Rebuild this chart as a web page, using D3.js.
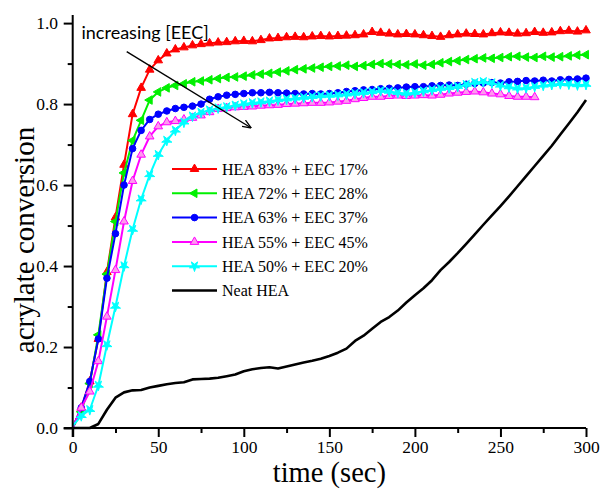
<!DOCTYPE html>
<html><head><meta charset="utf-8">
<script src="https://cdn.jsdelivr.net/npm/d3@7/dist/d3.min.js"></script>
<style>body{margin:0;background:#fff}svg{display:block}</style>
</head><body>
<svg id="c" width="600" height="489"></svg>
<script>
const times = d3.range(0, 301, 5);
const hea83 = [0,0.05,0.115,0.22,0.385,0.52,0.65,0.775,0.84,0.885,0.908,0.925,0.935,0.94,0.945,0.948,0.95,0.952,0.953,0.955,0.956,0.955,0.958,0.962,0.963,0.965,0.966,0.965,0.967,0.968,0.967,0.968,0.969,0.97,0.972,0.978,0.976,0.974,0.972,0.973,0.972,0.97,0.968,0.966,0.97,0.972,0.974,0.973,0.972,0.975,0.977,0.976,0.974,0.975,0.978,0.976,0.977,0.98,0.981,0.979,0.982];
const hea72 = [0,0.04,0.11,0.23,0.38,0.51,0.63,0.71,0.76,0.81,0.83,0.84,0.846,0.85,0.855,0.857,0.86,0.863,0.866,0.867,0.869,0.872,0.874,0.876,0.879,0.882,0.885,0.887,0.889,0.891,0.893,0.894,0.896,0.893,0.895,0.898,0.9,0.899,0.898,0.897,0.899,0.896,0.898,0.902,0.905,0.907,0.91,0.912,0.914,0.913,0.915,0.917,0.918,0.916,0.915,0.918,0.916,0.917,0.919,0.921,0.922];
const hea63 = [0,0.05,0.115,0.22,0.37,0.48,0.6,0.69,0.735,0.762,0.775,0.783,0.789,0.792,0.795,0.8,0.812,0.818,0.822,0.824,0.826,0.828,0.828,0.829,0.828,0.827,0.826,0.825,0.826,0.825,0.826,0.828,0.831,0.833,0.835,0.836,0.838,0.839,0.84,0.842,0.843,0.843,0.845,0.846,0.847,0.846,0.849,0.851,0.852,0.853,0.852,0.855,0.856,0.858,0.857,0.859,0.857,0.86,0.861,0.862,0.864];
const hea55 = [0,0.05,0.09,0.165,0.275,0.39,0.51,0.61,0.675,0.72,0.745,0.755,0.758,0.762,0.766,0.772,0.78,0.788,0.79,0.792,0.793,0.794,0.796,0.797,0.798,0.8,0.801,0.802,0.803,0.803,0.804,0.806,0.808,0.812,0.815,0.818,0.818,0.82,0.821,0.82,0.821,0.822,0.821,0.823,0.826,0.828,0.83,0.831,0.829,0.826,0.824,0.82,0.818,0.818,0.817,null,null,null,null,null,null];
const hea50 = [0.005,0.03,0.045,0.105,0.205,0.3,0.4,0.49,0.565,0.625,0.675,0.71,0.735,0.755,0.77,0.779,0.785,0.79,0.793,0.797,0.8,0.803,0.805,0.807,0.81,0.812,0.814,0.816,0.818,0.82,0.821,0.822,0.824,0.826,0.828,0.83,0.833,0.831,0.828,0.826,0.828,0.832,0.835,0.838,0.84,0.843,0.848,0.853,0.855,0.852,0.846,0.842,0.839,0.84,0.843,0.846,0.848,0.85,0.849,0.847,0.848];
const neatHEA = [0,0,0,0.01,0.045,0.075,0.088,0.093,0.094,0.1,0.104,0.108,0.111,0.113,0.12,0.121,0.122,0.124,0.128,0.132,0.14,0.145,0.148,0.15,0.147,0.152,0.157,0.162,0.166,0.171,0.178,0.186,0.196,0.215,0.228,0.245,0.262,0.274,0.29,0.31,0.328,0.345,0.365,0.39,0.41,0.432,0.455,0.478,0.502,0.525,0.548,0.572,0.597,0.622,0.647,0.672,0.697,0.725,0.752,0.78,0.81];
const seriesNames = ["HEA 83% + EEC 17%","HEA 72% + EEC 28%","HEA 63% + EEC 37%","HEA 55% + EEC 45%","HEA 50% + EEC 20%","Neat HEA"];
const xTicks = [0,50,100,150,200,250,300];
const xMinor = [25,75,125,175,225,275];
const yTicks = [0,0.2,0.4,0.6,0.8,1.0];
const yMinor = [0.1,0.3,0.5,0.7,0.9];
const annotation = "increasing [EEC]";
const xTitle = "time (sec)";
const yTitle = "acrylate conversion";

const svg = d3.select("#c");
const serif = "'Liberation Serif','Times New Roman',serif";
const x = d3.scaleLinear().domain([0,300]).range([72.7,586]);
const y = d3.scaleLinear().domain([0,1.02]).range([428,15]);

const styles = [
  {color:"#ff0000", sym:"tri", fill:"#ff0000"},
  {color:"#00f000", sym:"left", fill:"#00f000"},
  {color:"#0000ff", sym:"circle", fill:"#0000ff"},
  {color:"#ff00ff", sym:"tri", fill:"#ff99ee"},
  {color:"#00ffff", sym:"star", fill:"#00ffff"},
  {color:"#000000", sym:null}
];
const allData = [hea83,hea72,hea63,hea55,hea50,neatHEA];

function symbolPath(kind){
  if(kind==="tri") return d3.symbol(d3.symbolTriangle, 32)();
  if(kind==="left") return d3.symbol(d3.symbolTriangle, 32)();
  if(kind==="circle") return d3.symbol(d3.symbolCircle, 34)();
  if(kind==="star") return d3.symbol(d3.symbolStar, 32)();
}
function drawMarker(g, kind, st, cx, cy){
  const p = g.append("path").attr("d", symbolPath(kind))
    .attr("fill", st.fill).attr("stroke", st.color).attr("stroke-width", 1);
  let tr = `translate(${cx},${cy})`;
  if(kind==="left") tr += " rotate(-90)";
  if(kind==="star") tr += " rotate(180)";
  p.attr("transform", tr);
}

const line = d3.line().defined(d=>d[1]!=null).x(d=>x(d[0])).y(d=>y(d[1]));
const plot = svg.append("g");
const order = [5,0,1,2,3,4];
order.forEach(i=>{
  const pts = times.map((t,k)=>[t, allData[i][k]]);
  plot.append("path").datum(pts).attr("d", line)
    .attr("fill","none").attr("stroke", styles[i].color)
    .attr("stroke-width", i===5?2.6:2).attr("stroke-linejoin","round");
  if(styles[i].sym){
    const mg = plot.append("g");
    pts.filter((d,k)=>k>0 && d[1]!=null).forEach(d=>drawMarker(mg, styles[i].sym, styles[i], x(d[0]), y(d[1])));
  }
});

// axes
const ax = svg.append("g").attr("transform","translate(0,428)");
ax.call(d3.axisBottom(x).tickValues(xTicks).tickSize(9).tickSizeOuter(0).tickFormat(d3.format("d")));
const axm = svg.append("g").attr("transform","translate(0,428)");
axm.call(d3.axisBottom(x).tickValues(xMinor).tickSize(5).tickFormat(""));
axm.select(".domain").remove();
const ay = svg.append("g").attr("transform","translate(72.7,0)");
ay.call(d3.axisLeft(y).tickValues(yTicks).tickSize(9).tickSizeOuter(0).tickFormat(d3.format(".1f")));
const aym = svg.append("g").attr("transform","translate(72.7,0)");
aym.call(d3.axisLeft(y).tickValues(yMinor).tickSize(5).tickFormat(""));
aym.select(".domain").remove();
[ax,axm,ay,aym].forEach(g=>{
  g.selectAll(".domain,line").attr("stroke","#000").attr("stroke-width",2);
  g.selectAll("text").attr("font-family",serif).attr("font-size",17.5).attr("fill","#000");
});
ax.select(".domain").attr("d", `M${x(0)-9},0H${x(300)}`);
ay.select(".domain").attr("d", `M0,${y(1.02)}V437`);
ax.selectAll("text").attr("y",13).attr("dy","0.71em");
ay.selectAll("text").attr("dx","-0.15em");

// titles
svg.append("text").attr("x",(x(0)+x(300))/2).attr("y",482).attr("text-anchor","middle")
  .attr("font-family",serif).attr("font-size",28.5).text(xTitle);
svg.append("text").attr("transform","translate(34,240) rotate(-90)").attr("text-anchor","middle")
  .attr("font-family",serif).attr("font-size",29).text(yTitle);

// annotation
svg.append("defs").append("marker").attr("id","ah").attr("viewBox","0 0 10 10")
  .attr("refX",9).attr("refY",5).attr("markerWidth",9).attr("markerHeight",9).attr("orient","auto")
  .attr("markerUnits","userSpaceOnUse")
  .append("path").attr("d","M0,1L10,5L0,9").attr("fill","none").attr("stroke","#000").attr("stroke-width",1.5);
svg.append("line").attr("x1",126.7).attr("y1",51.7).attr("x2",250.5).attr("y2",127.5)
  .attr("stroke","#000").attr("stroke-width",1.4).attr("marker-end","url(#ah)");
svg.append("text").attr("x",81.5).attr("y",38.5).attr("font-family","Lato,'Open Sans',sans-serif")
  .attr("font-size",18).text(annotation);

// legend
const lg = svg.append("g");
seriesNames.forEach((n,i)=>{
  const yy = 169 + i*24.3;
  lg.append("line").attr("x1",172).attr("x2",217).attr("y1",yy).attr("y2",yy)
    .attr("stroke",styles[i].color).attr("stroke-width", i===5?2.6:2);
  if(styles[i].sym) drawMarker(lg, styles[i].sym, styles[i], 194.5, yy);
  lg.append("text").attr("x",222).attr("y",yy).attr("dy","0.35em")
    .attr("font-family",serif).attr("font-size",16).text(n);
});
</script>
</body></html>
